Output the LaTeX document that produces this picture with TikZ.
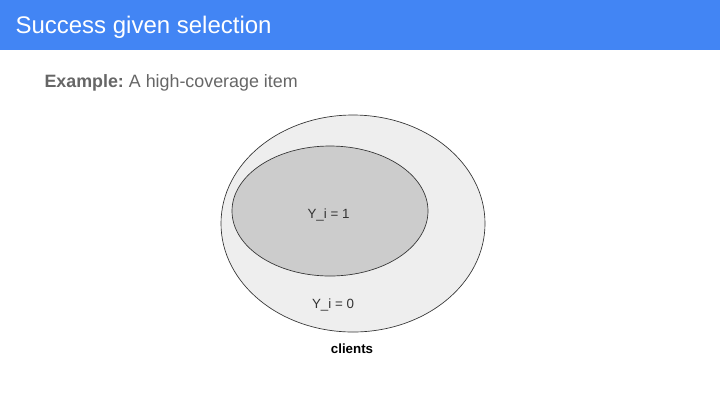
\documentclass[tikz,border=0pt]{standalone}
\usepackage{fontspec}
\setmainfont{Liberation Sans}
\usetikzlibrary{shapes.geometric}
\definecolor{hdrblue}{HTML}{4285F4}
\definecolor{subgray}{HTML}{666666}
\definecolor{outerfill}{HTML}{EEEEEE}
\definecolor{innerfill}{HTML}{CCCCCC}
\definecolor{edgegray}{HTML}{333333}
\tikzset{every picture/.style={line width=0.75pt}}
\tikzset{
  setshape/.style={ellipse,draw=edgegray,line width=0.5pt,inner sep=0pt},
  setlabel/.style={inner sep=0.75pt,text=edgegray,font=\fontsize{10}{12}\selectfont}
}

\begin{document}
\begin{tikzpicture}[x=0.75pt,y=0.75pt,yscale=-1,xscale=1]
    \useasboundingbox (0,0) rectangle (720,405);
    % Header bar
    \fill[hdrblue] (0,0) rectangle (720,50);
    \node (title) [anchor=west,inner sep=0.75pt,text=white,font=\fontsize{18}{22}\selectfont] at (14,27.5) {Success given selection};
    % Subtitle
    \node (example) [anchor=west,inner sep=0.75pt,text=subgray,font=\fontsize{13.4}{16}\selectfont] at (43,83) {\textbf{Example:}~A high-coverage item};
    % Outer set
    \node (outer) [setshape,fill=outerfill,minimum width=198pt,minimum height=162.75pt] at (353,223.5) {};
    % Inner set
    \node (inner) [setshape,fill=innerfill,minimum width=147pt,minimum height=97.5pt] at (330,211) {};
    % Text Node
    \node (yone) [setlabel] at (328.5,214.5) {Y\_i = 1};
    % Text Node
    \node (yzero) [setlabel] at (333,304.5) {Y\_i = 0};
    % Text Node
    \node (clients) [setlabel,text=black,font=\fontsize{10}{12}\selectfont\bfseries] at (352,349) {clients};
\end{tikzpicture}
\end{document}
